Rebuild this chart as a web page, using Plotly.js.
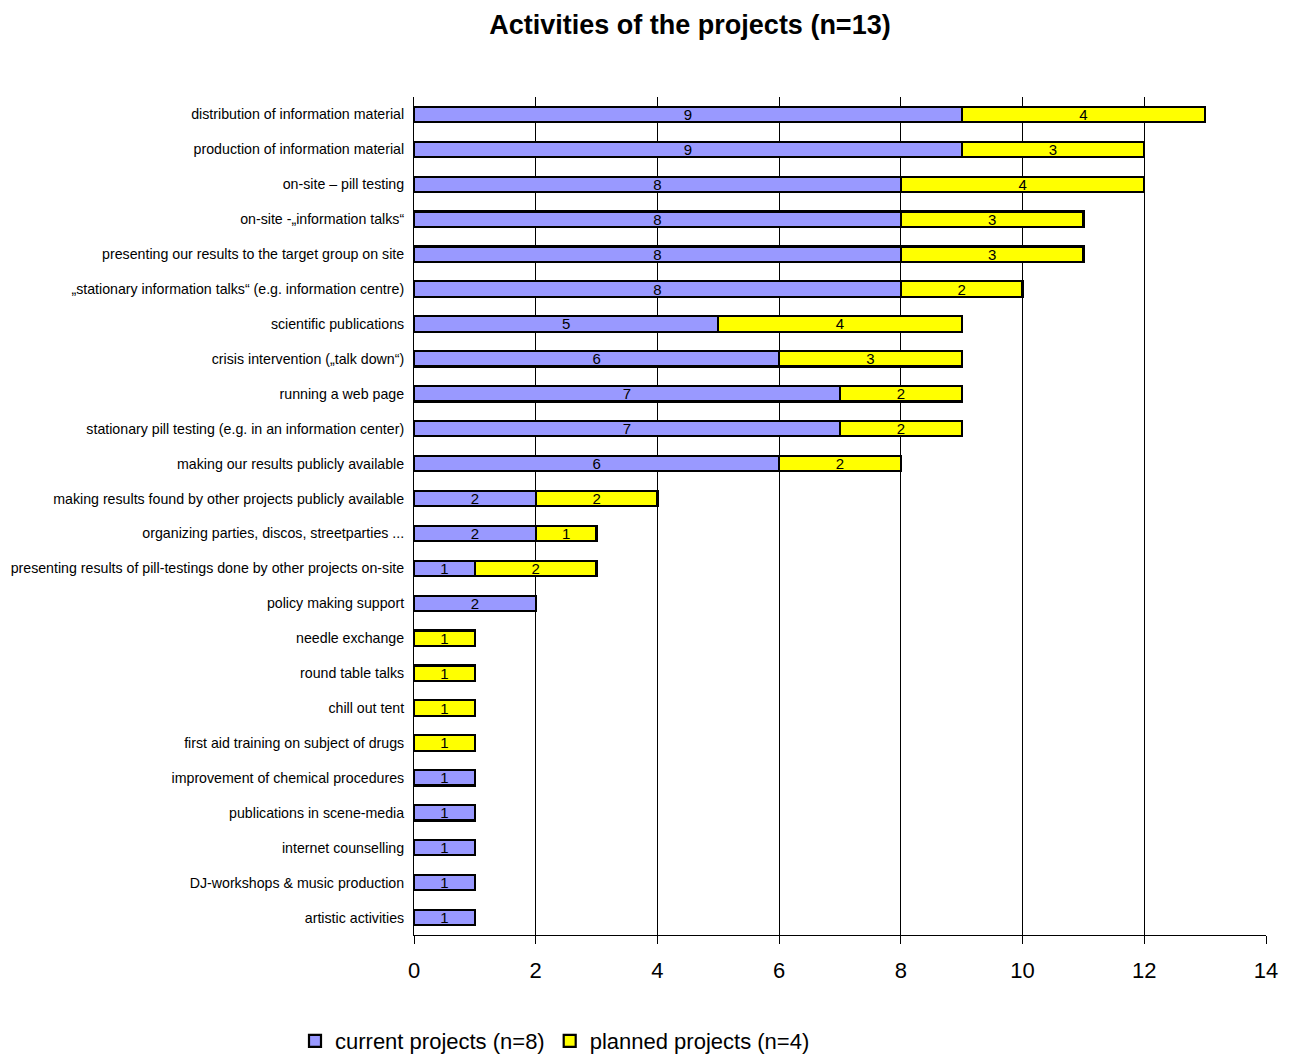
<!DOCTYPE html>
<html>
<head>
<meta charset="utf-8">
<script src="https://cdn.plot.ly/plotly-3.0.1.min.js"></script>
<style>html,body{margin:0;padding:0;background:#fff;}#chart{width:1289px;height:1055px;}</style>
</head>
<body>
<div id="chart"></div>
<script>
const categories = [
  "distribution of information material",
  "production of information material",
  "on-site – pill testing",
  "on-site -„information talks“",
  "presenting our results to the target group on site",
  "„stationary information talks“ (e.g. information centre)",
  "scientific publications",
  "crisis intervention („talk down“)",
  "running a web page",
  "stationary pill testing (e.g. in an information center)",
  "making our results publicly available",
  "making results found by other projects publicly available",
  "organizing parties, discos, streetparties ...",
  "presenting results of pill-testings done by other projects on-site",
  "policy making support",
  "needle exchange",
  "round table talks",
  "chill out tent",
  "first aid training on subject of drugs",
  "improvement of chemical procedures",
  "publications in scene-media",
  "internet counselling",
  "DJ-workshops & music production",
  "artistic activities"
];
const currentProjects = [9, 9, 8, 8, 8, 8, 5, 6, 7, 7, 6, 2, 2, 1, 2, null, null, null, null, 1, 1, 1, 1, 1];
const plannedProjects = [4, 3, 4, 3, 3, 2, 4, 3, 2, 2, 2, 2, 1, 2, null, 1, 1, 1, 1, null, null, null, null, null];
const seriesNames = ["current projects (n=8)", "planned projects (n=4)"];
const xTicks = [0, 2, 4, 6, 8, 10, 12, 14];

const FONT = "Liberation Sans, Arial, sans-serif";
function lbl(v){ return v.map(x => x == null ? "" : String(x)); }

const traces = [
  {
    type: "bar", orientation: "h", name: seriesNames[0],
    y: categories, x: currentProjects,
    text: lbl(currentProjects), textposition: "inside", insidetextanchor: "middle",
    constraintext: "none", textangle: 0,
    textfont: {family: FONT, size: 15, color: "#000"},
    marker: {color: "#9999FF", line: {color: "#000", width: 2.2}},
    hoverinfo: "x+y"
  },
  {
    type: "bar", orientation: "h", name: seriesNames[1],
    y: categories, x: plannedProjects,
    text: lbl(plannedProjects), textposition: "inside", insidetextanchor: "middle",
    constraintext: "none", textangle: 0,
    textfont: {family: FONT, size: 15, color: "#000"},
    marker: {color: "#FFFF00", line: {color: "#000", width: 2.2}},
    hoverinfo: "x+y"
  }
];

const layout = {
  width: 1289, height: 1055,
  paper_bgcolor: "#fff", plot_bgcolor: "#fff",
  margin: {l: 414, r: 23, t: 97, b: 120, autoexpand: false},
  barmode: "stack", bargap: 0.56,
  font: {family: FONT, color: "#000"},
  title: {
    text: "<b>Activities of the projects (n=13)</b>",
    font: {family: FONT, size: 27, color: "#000"},
    x: 690/1289, xref: "container", xanchor: "center",
    y: 1 - 25/1055, yref: "container", yanchor: "middle"
  },
  xaxis: {
    range: [0, 14], tickvals: xTicks, ticktext: xTicks.map(String),
    showgrid: true, gridcolor: "#000", gridwidth: 1,
    zeroline: false, showline: true, linecolor: "#000", linewidth: 1,
    ticks: "outside", ticklen: 8, tickcolor: "#000", ticklabelstandoff: 8,
    tickfont: {family: FONT, size: 22, color: "#000"},
    fixedrange: true
  },
  yaxis: {
    type: "category", categoryorder: "array", categoryarray: categories,
    autorange: "reversed",
    showline: true, linecolor: "#000", linewidth: 1,
    ticks: "", ticklabelstandoff: 6,
    tickfont: {family: FONT, size: 14.2, color: "#000"},
    showgrid: false, zeroline: false, fixedrange: true
  },
  showlegend: true,
  legend: {
    orientation: "h", xref: "container", x: 295/1289, xanchor: "left",
    yref: "container", y: 1 - 1041/1055, yanchor: "middle",
    font: {family: FONT, size: 22, color: "#000"},
    itemwidth: 30, tracegroupgap: 0, traceorder: "normal",
    bgcolor: "rgba(0,0,0,0)"
  }
};

Plotly.newPlot("chart", traces, layout, {displayModeBar: false, staticPlot: true});
</script>
</body>
</html>
